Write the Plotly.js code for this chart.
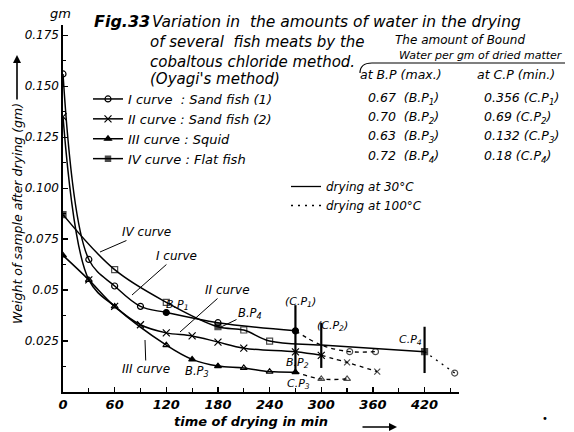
<!DOCTYPE html>
<html>
<head>
<meta charset="utf-8">
<script src="https://cdn.plot.ly/plotly-3.0.1.min.js"></script>
<style>html,body{margin:0;padding:0;background:#fff;}#chart{width:574px;height:432px;}</style>
</head>
<body>
<div id="chart"></div>
<script>
// ---- data (time in min, weight in gm) ----
const c1Time30 = [0, 30, 60, 90, 120, 180, 270];
const c1W30    = [0.156, 0.065, 0.052, 0.042, 0.039, 0.034, 0.030];
const c1Fill30 = [0, 0, 0, 0, 1, 0, 1];
const c1Time100 = [270, 300, 333, 363];
const c1W100    = [0.030, 0.023, 0.0198, 0.0198];
const c1Mark100 = [0, 0, 1, 1];

const c2Time30 = [0, 30, 60, 90, 120, 150, 180, 210, 270, 300];
const c2W30    = [0.135, 0.055, 0.042, 0.033, 0.029, 0.0275, 0.0245, 0.0215, 0.0197, 0.018];
const c2Time100 = [300, 330, 365];
const c2W100    = [0.018, 0.0145, 0.0100];
const c2Mark100 = [0, 1, 1];

const c3Time30 = [0, 30, 60, 120, 150, 180, 210, 240, 270];
const c3W30    = [0.067, 0.055, 0.042, 0.023, 0.016, 0.0127, 0.0118, 0.0100, 0.0097];
const c3Fill30 = [1, 0, 0, 0, 1, 1, 0, 0, 1];
const c3Time100 = [270, 300, 330];
const c3W100    = [0.0097, 0.0064, 0.0064];
const c3Mark100 = [0, 1, 1];

const c4Time30 = [0, 60, 120, 180, 210, 240, 300, 420];
const c4W30    = [0.087, 0.060, 0.044, 0.032, 0.0304, 0.025, 0.023, 0.0198];
const c4Fill30 = [1, 0, 0, 1, 0, 0, 0, 1];
const c4Mark30 = [1, 1, 1, 1, 1, 1, 0, 1];
const c4Time100 = [420, 455];
const c4W100    = [0.0198, 0.0093];
const c4Mark100 = [0, 1];

const curveNames = ['I curve  : Sand fish (1)', 'II curve : Sand fish (2)', 'III curve : Squid', 'IV curve : Flat fish'];
const styleNames = ['drying at 30°C', 'drying at 100°C'];

// critical-point vertical bars
const cpTime = [270, 300, 420];
const cpLow  = [0.0095, 0.0118, 0.0093];
const cpHigh = [0.0426, 0.034, 0.032];

const yTickVals = [0.025, 0.05, 0.075, 0.100, 0.125, 0.150, 0.175];
const yTickText = ['0.025', '0.05', '0.075', '0.100', '0.125', '0.150', '0.175'];
const xTickVals = [0, 60, 120, 180, 240, 300, 360, 420];

// bound water table
const bpValues = ['0.67', '0.70', '0.63', '0.72'];
const cpValues = ['0.356', '0.69', '0.132', '0.18'];

// ---- helpers ----
const L = 63, PW = 396, PH = 367, BASE = 392;
const px = x => (x - L) / PW;
const py = y => (BASE - y) / PH;
const FONT = 'DejaVu Sans';
const f = (size, extra) => Object.assign({family: FONT, size: size, color: '#000', style: 'italic'}, extra || {});

function sym(base, fills) { return fills.map(v => v ? base : base + '-open'); }
const LW = 1.5;

const traces = [];
function solid(name, t, w, symbols, sizes) {
  traces.push({x: t, y: w, name: name, mode: 'lines+markers', type: 'scatter',
    line: {color: '#000', width: LW, shape: 'spline', smoothing: 1},
    marker: {symbol: symbols, size: sizes || 6, color: '#000', line: {color: '#000', width: 1.2}},
    legend: 'legend', showlegend: true});
}
function dashed(t, w, symbol, marks, dash) {
  traces.push({x: t, y: w, mode: 'lines+markers', type: 'scatter', showlegend: false,
    line: {color: '#000', width: 1.3, shape: 'spline', smoothing: 1, dash: dash || '4px,4px'},
    marker: {symbol: symbol, size: marks.map(m => m ? 6 : 0), color: '#000', line: {color: '#000', width: 1.2}}});
}
solid(curveNames[0], c1Time30, c1W30, sym('circle', c1Fill30));
solid(curveNames[1], c2Time30, c2W30, c2Time30.map(() => 'x-thin-open'), 7);
solid(curveNames[2], c3Time30, c3W30, sym('triangle-up', c3Fill30));
solid(curveNames[3], c4Time30, c4W30, sym('square', c4Fill30), c4Mark30.map(m => m ? 6 : 0));
dashed(c1Time100, c1W100, 'circle-open', c1Mark100);
dashed(c2Time100, c2W100, 'x-thin-open', c2Mark100);
dashed(c3Time100, c3W100, 'triangle-up-open', c3Mark100);
dashed(c4Time100, c4W100, 'circle-open', c4Mark100, '2px,5px');
// line-style key
traces.push({x: [null], y: [null], name: styleNames[0], mode: 'lines', legend: 'legend2', showlegend: true,
  line: {color: '#000', width: 1.3}});
traces.push({x: [null], y: [null], name: styleNames[1], mode: 'lines', legend: 'legend2', showlegend: true,
  line: {color: '#000', width: 1.5, dash: '2px,5px'}});

const shapes = cpTime.map((t, i) => ({type: 'line', xref: 'x', yref: 'y', x0: t, x1: t, y0: cpLow[i], y1: cpHigh[i],
  line: {color: '#000', width: 2.2}}));
// brace / underline for the table heading
shapes.push({type: 'path', xref: 'paper', yref: 'paper',
  path: `M ${px(360)} ${py(73)} Q ${px(360)} ${py(63)} ${px(372)} ${py(63)} L ${px(565)} ${py(63)}`,
  line: {color: '#000', width: 1.2}});

const ann = [];
function txt(text, x, y, size, extra, anchor) {
  ann.push(Object.assign({text: text, xref: 'paper', yref: 'paper', x: px(x), y: py(y), showarrow: false,
    xanchor: anchor || 'left', yanchor: 'middle', font: f(size)}, extra || {}));
}
function ptr(text, hx, hy, tx, ty, size) {
  ann.push({text: text, xref: 'paper', yref: 'paper', x: px(hx), y: py(hy), ax: tx - hx, ay: ty - hy,
    showarrow: true, arrowhead: 0, arrowwidth: 1, arrowcolor: '#000', font: f(size || 12)});
}
// titles
txt('Fig.33', 92, 22, 16, {font: f(16, {weight: 'bold'})});
txt('Variation in  the amounts of water in the drying', 150, 22, 15.5);
txt('of several  fish meats by the', 148, 42, 15);
txt('cobaltous chloride method.', 148, 62, 15);
txt("(Oyagi's method)", 148, 79, 15);
// table
txt('The amount of Bound', 393, 40, 12);
txt('Water per gm of dried matter', 397, 55, 11);
txt('at B.P (max.)', 358, 74, 12.5);
txt('at C.P (min.)', 475, 74, 12.5);
const rowY = [98, 117, 136, 156];
for (let i = 0; i < 4; i++) {
  txt(bpValues[i] + '  (B.P<sub>' + (i + 1) + '</sub>)', 366, rowY[i], 12.5);
  txt(cpValues[i] + ' (C.P<sub>' + (i + 1) + '</sub>)', 482, rowY[i], 12.5);
}
// curve labels
ptr('IV curve', 100, 252, 146, 232);
ptr('I curve', 132, 295, 176, 256);
ptr('II curve', 180, 332, 227, 290);
ptr('III curve', 145, 340, 146, 369);
ptr('B.P<sub>4</sub>', 221, 327, 250, 313, 11.5);
txt('B.P<sub>1</sub>', 177, 305, 11, {}, 'center');
txt('B.P<sub>3</sub>', 197, 371, 11.5, {}, 'center');
txt('B.P<sub>2</sub>', 297, 363, 11, {}, 'center');
txt('C.P<sub>3</sub>', 298, 384, 11, {}, 'center');
txt('(C.P<sub>1</sub>)', 300, 302, 11, {}, 'center');
txt('(C.P<sub>2</sub>)', 332, 326, 11, {}, 'center');
txt('C.P<sub>4</sub>', 410, 340, 11, {}, 'center');
// axis titles
txt('gm', 60, 14, 13, {}, 'center');
ann.push({text: 'Weight of sample after drying (gm)', xref: 'paper', yref: 'paper', x: px(18), y: py(214),
  showarrow: false, textangle: -90, xanchor: 'center', yanchor: 'middle', font: f(12.5)});
ann.push({text: '', xref: 'paper', yref: 'paper', x: px(17), y: py(55), ax: 0, ay: 46, showarrow: true,
  arrowhead: 2, arrowsize: 1, arrowwidth: 1.6, arrowcolor: '#000'});
txt('time of drying in min', 251, 421, 13, {font: f(13, {weight: 'bold'})}, 'center');
ann.push({text: '', xref: 'paper', yref: 'paper', x: px(397), y: py(427), ax: -36, ay: 0, showarrow: true,
  arrowhead: 2, arrowsize: 1, arrowwidth: 1.6, arrowcolor: '#000'});
txt('•', 545, 418, 10, {}, 'center');

const layout = {
  width: 574, height: 432,
  margin: {l: L, r: 574 - L - PW, t: BASE - PH, b: 432 - BASE, pad: 0},
  paper_bgcolor: '#fff', plot_bgcolor: '#fff',
  font: f(12),
  xaxis: {range: [0, 460], showgrid: false, zeroline: false, showline: true, linecolor: '#000', linewidth: 1.6,
    tickmode: 'array', tickvals: xTickVals, ticks: 'inside', ticklen: 5, tickwidth: 1.2, tickcolor: '#000',
    minor: {tickmode: 'linear', tick0: 0, dtick: 30, ticks: 'inside', ticklen: 4, tickcolor: '#000', showgrid: false},
    tickfont: f(13, {weight: 'bold'})},
  yaxis: {range: [0, 0.18], showgrid: false, zeroline: false, showline: true, linecolor: '#000', linewidth: 1.6,
    tickmode: 'array', tickvals: yTickVals, ticktext: yTickText, ticks: 'inside', ticklen: 5, tickwidth: 1.2, tickcolor: '#000',
    minor: {tickmode: 'linear', tick0: 0, dtick: 0.0125, ticks: 'inside', ticklen: 3, tickcolor: '#000', showgrid: false},
    tickfont: f(12)},
  legend: {x: px(88), y: py(84), xanchor: 'left', yanchor: 'top', bgcolor: 'rgba(0,0,0,0)', font: f(13),
    tracegroupgap: 0, itemwidth: 30},
  legend2: {x: px(286), y: py(172), xanchor: 'left', yanchor: 'top', bgcolor: 'rgba(0,0,0,0)', font: f(12),
    tracegroupgap: 0, itemwidth: 30},
  shapes: shapes,
  annotations: ann
};
Plotly.newPlot('chart', traces, layout, {displayModeBar: false, staticPlot: true});
</script>
</body>
</html>
